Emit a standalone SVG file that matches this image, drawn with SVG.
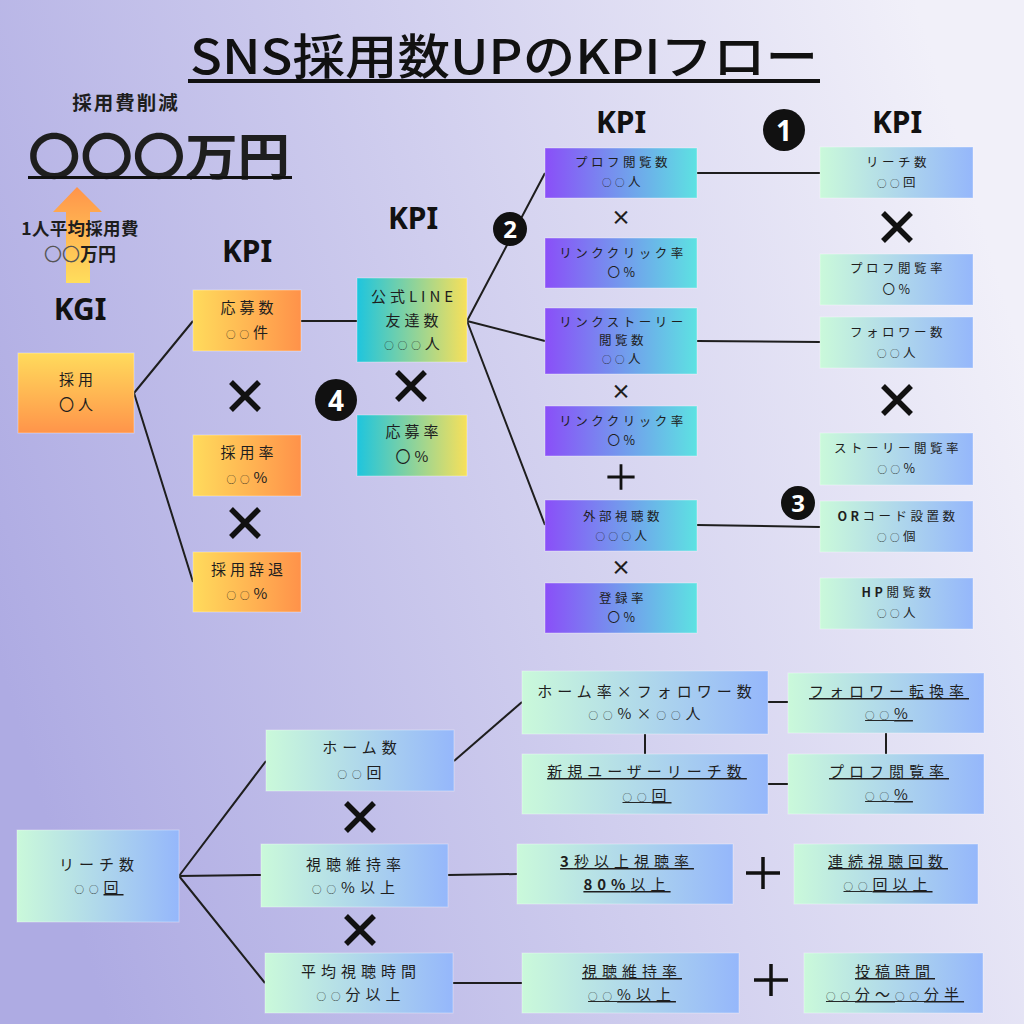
<svg xmlns="http://www.w3.org/2000/svg" width="1024" height="1024" viewBox="0 0 1024 1024">
<defs>
<linearGradient id="bg" x1="0" y1="0.65" x2="1" y2="0.35">
<stop offset="0" stop-color="#aeabe3"/><stop offset="1" stop-color="#f1f0f9"/>
</linearGradient>
<linearGradient id="gOr" x1="0" y1="0" x2="1" y2="0"><stop offset="0" stop-color="#ffdb5c"/><stop offset="1" stop-color="#ff924a"/></linearGradient>
<linearGradient id="gOrV" x1="0" y1="0" x2="0" y2="1"><stop offset="0" stop-color="#ffdb5c"/><stop offset="1" stop-color="#ff944a"/></linearGradient>
<linearGradient id="gArrow" x1="0" y1="0" x2="0" y2="1"><stop offset="0" stop-color="#ff944a"/><stop offset="1" stop-color="#ffde5c"/></linearGradient>
<linearGradient id="gLine" x1="0" y1="0" x2="1" y2="0"><stop offset="0" stop-color="#1ec5de"/><stop offset="1" stop-color="#f7e05a"/></linearGradient>
<linearGradient id="gPu" x1="0" y1="0" x2="1" y2="0"><stop offset="0" stop-color="#8a4ff8"/><stop offset="1" stop-color="#5de2e2"/></linearGradient>
<linearGradient id="gMb" x1="0" y1="0" x2="1" y2="0"><stop offset="0" stop-color="#caf9da"/><stop offset="1" stop-color="#95b7fb"/></linearGradient>
<symbol id="xBig" viewBox="-15 -15 30 30" overflow="visible"><path d="M-14,-14 L14,14 M14,-14 L-14,14" stroke="#111" stroke-width="5.5" fill="none"/></symbol>
<symbol id="plus" viewBox="-15 -15 30 30" overflow="visible"><path d="M0,-16 V16 M-17,0 H17" stroke="#111" stroke-width="3.5" fill="none"/></symbol>
</defs>
<style>
.t{font-family:"Noto Sans CJK JP","Noto Sans",sans-serif;fill:#1e1e1e;text-anchor:middle}
.n{font-size:12.5px;letter-spacing:3.5px}
.m{font-size:15px;letter-spacing:4px}
.b{font-size:15px;letter-spacing:5px}
.u{text-decoration:underline}
.o{font-size:9.5px}
.bd{font-weight:700}
.h{font-family:"Noto Sans","Noto Sans CJK JP",sans-serif;font-weight:700;font-size:30px;fill:#111;text-anchor:middle}
.cn{font-family:"Noto Sans","DejaVu Sans",sans-serif;font-weight:700;fill:#fff;text-anchor:middle}
.ln{stroke:#1e1e1e;stroke-width:2;fill:none}
.bx{stroke:#ffffff;stroke-opacity:0.35;stroke-width:1}
</style>
<rect width="1024" height="1024" fill="url(#bg)"/>

<!-- title -->
<g id="title">
<text x="504" y="74" font-family="Noto Sans CJK JP,sans-serif" font-size="48" font-weight="500" fill="#111" text-anchor="middle" textLength="628" lengthAdjust="spacingAndGlyphs">SNS採用数UPのKPIフロー</text>
<rect x="188" y="79" width="632" height="4" fill="#111"/>
</g>

<!-- top-left KGI header -->
<g id="cost">
<text x="126" y="110" class="t" font-size="19.5" font-weight="700" letter-spacing="2">採用費削減</text>
<text x="159" y="175" class="t" font-size="50" font-weight="700" fill="#111" textLength="262" lengthAdjust="spacingAndGlyphs">〇〇〇万円</text>
<rect x="28" y="176" width="264" height="3" fill="#111"/>
</g>
<g id="arrow">
<path d="M77,187 L102,212 L90,212 L90,283 L66,283 L66,212 L53,212 Z" fill="url(#gArrow)"/>
</g>
<g id="avg">
<text x="80" y="235" class="t" font-size="17.5" font-weight="700" letter-spacing="0.3">1人平均採用費</text>
<text x="80" y="261" class="t" font-size="18" font-weight="700"><tspan fill="#555" font-weight="400">〇〇</tspan>万円</text>
</g>
<text x="80" y="320" class="h" font-size="31">KGI</text>
<text x="247" y="262" class="h">KPI</text>
<text x="413" y="229" class="h">KPI</text>
<text x="621" y="133" class="h">KPI</text>
<text x="897" y="133" class="h">KPI</text>

<!-- connectors -->
<g id="connectors" class="ln">
<path d="M134,393 L193,321 M134,393 L193,582"/>
<path d="M301,321 H357"/>
<path d="M467,321 L545,173 M467,321 L545,341 M467,321 L545,525"/>
<path d="M697,173 H820 M697,341 L820,342 M697,525 L820,527"/>
<path d="M179,876 L266,761 M179,876 L261,875 M179,876 L265,983"/>
<path d="M454,761 L522,702"/>
<path d="M645,734 V754 M886,733 V754"/>
<path d="M768,702 H788 M768,784 H788"/>
<path d="M448,875 L517,874 M453,983 H522"/>
</g>

<!-- numbered markers -->
<g id="markers">
<circle cx="784" cy="130" r="21" fill="#111"/><text x="784" y="141" class="cn" font-size="28">1</text>
<circle cx="510" cy="229" r="17" fill="#111"/><text x="510" y="238" class="cn" font-size="24">2</text>
<circle cx="798" cy="503" r="17" fill="#111"/><text x="798" y="512" class="cn" font-size="24">3</text>
<circle cx="336" cy="400" r="21" fill="#111"/><text x="336" y="411" class="cn" font-size="28">4</text>
</g>

<!-- operators -->
<g id="ops">
<use href="#xBig" x="230" y="381" width="30" height="30"/>
<use href="#xBig" x="230" y="508" width="30" height="30"/>
<use href="#xBig" x="396" y="371" width="30" height="30"/>
<use href="#xBig" x="882" y="212" width="30" height="30"/>
<use href="#xBig" x="882" y="385" width="30" height="30"/>
<use href="#xBig" x="345" y="802" width="30" height="30"/>
<use href="#xBig" x="345" y="915" width="30" height="30"/>
<text x="621" y="225" class="t" font-size="20" font-weight="700">×</text>
<text x="621" y="399" class="t" font-size="20" font-weight="700">×</text>
<text x="621" y="575" class="t" font-size="20" font-weight="700">×</text>
<use href="#plus" x="609" y="465" width="24" height="24"/>
<use href="#plus" x="748" y="858" width="30" height="30"/>
<use href="#plus" x="756" y="965" width="30" height="30"/>
</g>

<!-- KGI / orange nodes -->
<g id="kgi"><rect x="18" y="353" width="116" height="80" fill="url(#gOrV)" class="bx"/>
<text x="78" y="385" class="t m">採用</text><text x="78" y="410" class="t m">〇人</text></g>
<g id="oubo"><rect x="193" y="290" width="108" height="61" fill="url(#gOr)" class="bx"/>
<text x="249" y="313" class="t m">応募数</text><text x="249" y="338" class="t m"><tspan class="o">○○</tspan>件</text></g>
<g id="saiyoritsu"><rect x="193" y="435" width="108" height="61" fill="url(#gOr)" class="bx"/>
<text x="249" y="458" class="t m">採用率</text><text x="249" y="483" class="t m"><tspan class="o">○○</tspan>%</text></g>
<g id="jitai"><rect x="193" y="552" width="108" height="60" fill="url(#gOr)" class="bx"/>
<text x="249" y="575" class="t m">採用辞退</text><text x="249" y="599" class="t m"><tspan class="o">○○</tspan>%</text></g>

<!-- LINE nodes -->
<g id="line"><rect x="357" y="278" width="110" height="84" fill="url(#gLine)" class="bx"/>
<text x="414" y="302" class="t m" letter-spacing="3">公式LINE</text><text x="414" y="326" class="t m">友達数</text><text x="414" y="349" class="t m"><tspan class="o">○○○</tspan>人</text></g>
<g id="ouboritsu"><rect x="357" y="415" width="110" height="61" fill="url(#gLine)" class="bx"/>
<text x="414" y="437" class="t m">応募率</text><text x="414" y="462" class="t m">〇%</text></g>

<!-- purple column -->
<g id="p1"><rect x="545" y="148" width="152" height="50" fill="url(#gPu)" class="bx"/>
<text x="623" y="167" class="t n">プロフ閲覧数</text><text x="623" y="186" class="t n"><tspan class="o">○○</tspan>人</text></g>
<g id="p2"><rect x="545" y="238" width="152" height="50" fill="url(#gPu)" class="bx"/>
<text x="623" y="258" class="t n">リンククリック率</text><text x="623" y="277" class="t n">〇%</text></g>
<g id="p3"><rect x="545" y="308" width="152" height="66" fill="url(#gPu)" class="bx"/>
<text x="623" y="327" class="t n">リンクストーリー</text><text x="623" y="345" class="t n">閲覧数</text><text x="623" y="363" class="t n"><tspan class="o">○○</tspan>人</text></g>
<g id="p4"><rect x="545" y="406" width="152" height="50" fill="url(#gPu)" class="bx"/>
<text x="623" y="426" class="t n">リンククリック率</text><text x="623" y="445" class="t n">〇%</text></g>
<g id="p5"><rect x="545" y="500" width="152" height="51" fill="url(#gPu)" class="bx"/>
<text x="623" y="521" class="t n">外部視聴数</text><text x="623" y="540" class="t n"><tspan class="o">○○○</tspan>人</text></g>
<g id="p6"><rect x="545" y="583" width="152" height="50" fill="url(#gPu)" class="bx"/>
<text x="623" y="603" class="t n">登録率</text><text x="623" y="622" class="t n">〇%</text></g>

<!-- right column -->
<g id="r1"><rect x="820" y="147" width="153" height="51" fill="url(#gMb)" class="bx"/>
<text x="898" y="167" class="t n">リーチ数</text><text x="898" y="187" class="t n"><tspan class="o">○○</tspan>回</text></g>
<g id="r2"><rect x="820" y="254" width="153" height="51" fill="url(#gMb)" class="bx"/>
<text x="898" y="273" class="t n">プロフ閲覧率</text><text x="898" y="294" class="t n">〇%</text></g>
<g id="r3"><rect x="820" y="317" width="153" height="51" fill="url(#gMb)" class="bx"/>
<text x="898" y="337" class="t n">フォロワー数</text><text x="898" y="357" class="t n"><tspan class="o">○○</tspan>人</text></g>
<g id="r4"><rect x="820" y="433" width="153" height="52" fill="url(#gMb)" class="bx"/>
<text x="898" y="453" class="t n">ストーリー閲覧率</text><text x="898" y="473" class="t n"><tspan class="o">○○</tspan>%</text></g>
<g id="r5"><rect x="820" y="501" width="153" height="51" fill="url(#gMb)" class="bx"/>
<text x="898" y="521" class="t n"><tspan class="bd">OR</tspan>コード設置数</text><text x="898" y="541" class="t n"><tspan class="o">○○</tspan>個</text></g>
<g id="r6"><rect x="820" y="578" width="153" height="51" fill="url(#gMb)" class="bx"/>
<text x="898" y="597" class="t n"><tspan class="bd">HP</tspan>閲覧数</text><text x="898" y="617" class="t n"><tspan class="o">○○</tspan>人</text></g>

<!-- bottom section -->
<g id="b-reach"><rect x="17" y="830" width="162" height="92" fill="url(#gMb)" class="bx"/>
<text x="99" y="870" class="t b">リーチ数</text><text x="99" y="893" class="t b"><tspan class="o">○○</tspan><tspan class="u">回</tspan></text></g>
<g id="b-home"><rect x="266" y="730" width="188" height="61" fill="url(#gMb)" class="bx"/>
<text x="362" y="753" class="t b">ホーム数</text><text x="362" y="778" class="t b"><tspan class="o">○○</tspan>回</text></g>
<g id="b-iji"><rect x="261" y="844" width="187" height="63" fill="url(#gMb)" class="bx"/>
<text x="356" y="870" class="t b">視聴維持率</text><text x="356" y="893" class="t b"><tspan class="o">○○</tspan>%以上</text></g>
<g id="b-avg"><rect x="265" y="953" width="188" height="60" fill="url(#gMb)" class="bx"/>
<text x="361" y="977" class="t b">平均視聴時間</text><text x="361" y="1000" class="t b"><tspan class="o">○○</tspan>分以上</text></g>
<g id="b-homeritsu"><rect x="522" y="671" width="246" height="63" fill="url(#gMb)" class="bx"/>
<text x="647" y="697" class="t b">ホーム率×フォロワー数</text><text x="647" y="719" class="t b"><tspan class="o">○○</tspan>%×<tspan class="o">○○</tspan>人</text></g>
<g id="b-new"><rect x="522" y="754" width="246" height="60" fill="url(#gMb)" class="bx"/>
<text x="647" y="777" class="t b u">新規ユーザーリーチ数</text><text x="647" y="801" class="t b u"><tspan class="o">○○</tspan>回</text></g>
<g id="b-follow"><rect x="788" y="673" width="196" height="60" fill="url(#gMb)" class="bx"/>
<text x="889" y="697" class="t b u" letter-spacing="7">フォロワー転換率</text><text x="889" y="719" class="t b u"><tspan class="o">○○</tspan>%</text></g>
<g id="b-prof"><rect x="788" y="754" width="196" height="60" fill="url(#gMb)" class="bx"/>
<text x="889" y="777" class="t b u" letter-spacing="7">プロフ閲覧率</text><text x="889" y="800" class="t b u"><tspan class="o">○○</tspan>%</text></g>
<g id="b-3sec"><rect x="517" y="844" width="216" height="60" fill="url(#gMb)" class="bx"/>
<text x="627" y="867" class="t b u"><tspan class="bd">3</tspan>秒以上視聴率</text><text x="627" y="890" class="t b u"><tspan class="bd">80%</tspan>以上</text></g>
<g id="b-renzoku"><rect x="794" y="844" width="184" height="60" fill="url(#gMb)" class="bx"/>
<text x="888" y="867" class="t b u">連続視聴回数</text><text x="888" y="890" class="t b u"><tspan class="o">○○</tspan>回以上</text></g>
<g id="b-iji2"><rect x="522" y="953" width="217" height="60" fill="url(#gMb)" class="bx"/>
<text x="632" y="977" class="t b u">視聴維持率</text><text x="632" y="1000" class="t b u"><tspan class="o">○○</tspan>%以上</text></g>
<g id="b-post"><rect x="804" y="953" width="179" height="60" fill="url(#gMb)" class="bx"/>
<text x="895" y="977" class="t b u">投稿時間</text><text x="895" y="1000" class="t b u" letter-spacing="3"><tspan class="o">○○</tspan>分～<tspan class="o">○○</tspan>分半</text></g>
</svg>
